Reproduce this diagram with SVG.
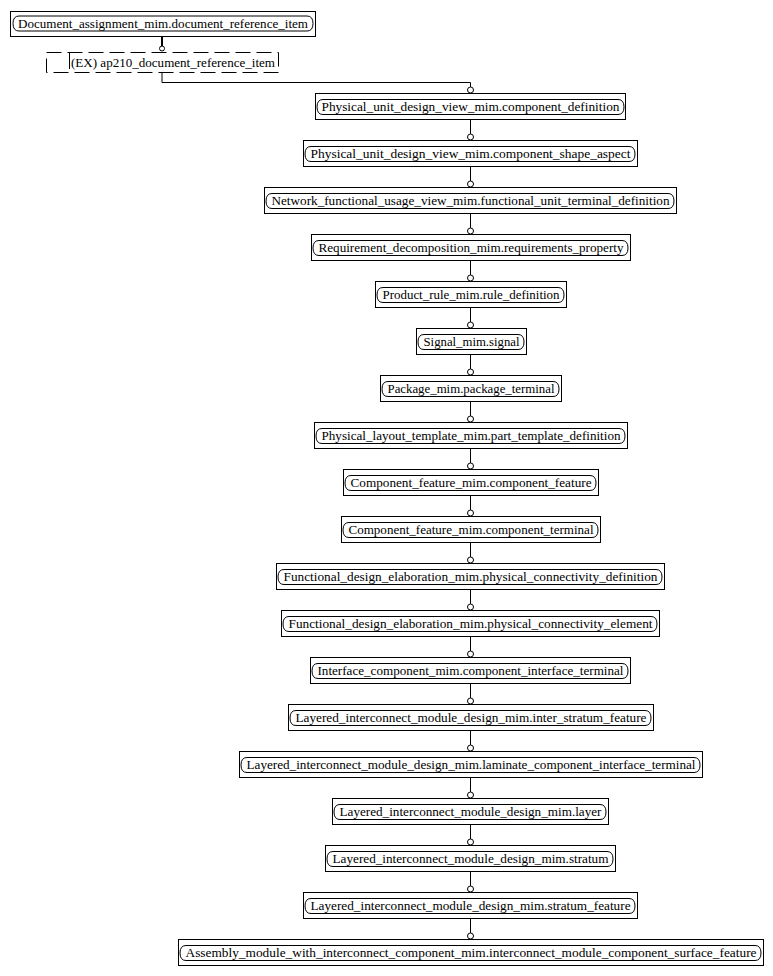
<svg xmlns="http://www.w3.org/2000/svg" width="773" height="976" viewBox="0 0 773 976">
<style>
rect.b{fill:#fff;stroke:#000;stroke-width:1}
path.p{fill:none;stroke:#000;stroke-width:1}
text{font-family:"Liberation Serif","Times New Roman",serif;font-size:12px;fill:#000}
.c line,.c polyline{stroke:#000;stroke-width:1;fill:none}
.c circle{fill:#fff;stroke:#000;stroke-width:1}
</style>
<rect width="773" height="976" fill="#fff"/>
<g class="c" id="connectors">
<line x1="162" y1="36" x2="162" y2="46" style="stroke-width:2"/>
<circle cx="162" cy="48.5" r="2.5"/>
<polyline points="162,72 162,82.5 470.5,82.5 470.5,87"/>
<circle cx="470.5" cy="90" r="3"/>
<line x1="470.5" y1="119" x2="470.5" y2="134"/><circle cx="470.5" cy="137" r="3"/>
<line x1="470.5" y1="166" x2="470.5" y2="181"/><circle cx="470.5" cy="184" r="3"/>
<line x1="470.5" y1="213" x2="470.5" y2="228"/><circle cx="470.5" cy="231" r="3"/>
<line x1="470.5" y1="260" x2="470.5" y2="275"/><circle cx="470.5" cy="278" r="3"/>
<line x1="470.5" y1="307" x2="470.5" y2="322"/><circle cx="470.5" cy="325" r="3"/>
<line x1="470.5" y1="354" x2="470.5" y2="369"/><circle cx="470.5" cy="372" r="3"/>
<line x1="470.5" y1="401" x2="470.5" y2="416"/><circle cx="470.5" cy="419" r="3"/>
<line x1="470.5" y1="448" x2="470.5" y2="463"/><circle cx="470.5" cy="466" r="3"/>
<line x1="470.5" y1="495" x2="470.5" y2="510"/><circle cx="470.5" cy="513" r="3"/>
<line x1="470.5" y1="542" x2="470.5" y2="557"/><circle cx="470.5" cy="560" r="3"/>
<line x1="470.5" y1="589" x2="470.5" y2="604"/><circle cx="470.5" cy="607" r="3"/>
<line x1="470.5" y1="636" x2="470.5" y2="651"/><circle cx="470.5" cy="654" r="3"/>
<line x1="470.5" y1="683" x2="470.5" y2="698"/><circle cx="470.5" cy="701" r="3"/>
<line x1="470.5" y1="730" x2="470.5" y2="745"/><circle cx="470.5" cy="748" r="3"/>
<line x1="470.5" y1="777" x2="470.5" y2="792"/><circle cx="470.5" cy="795" r="3"/>
<line x1="470.5" y1="824" x2="470.5" y2="839"/><circle cx="470.5" cy="842" r="3"/>
<line x1="470.5" y1="871" x2="470.5" y2="886"/><circle cx="470.5" cy="889" r="3"/>
<line x1="470.5" y1="918" x2="470.5" y2="933"/><circle cx="470.5" cy="936" r="3"/>
</g>
<g id="n_doc">
<rect class="b" x="10.5" y="11.5" width="305" height="25"/>
<path class="p" d="M19,16 H307 Q313,16 313,23.5 Q313,31 307,31 H19 Q13,31 13,23.5 Q13,16 19,16 Z"/>
<text x="163" y="28" text-anchor="middle" textLength="290" lengthAdjust="spacingAndGlyphs">Document_assignment_mim.document_reference_item</text>
</g>
<g id="n_ex">
<rect x="46.5" y="52.5" width="232" height="20" fill="#fff" stroke="#000" stroke-dasharray="15 6"/>
<line x1="69.5" y1="52.5" x2="69.5" y2="69" stroke="#000"/>
<text x="71" y="67" textLength="204" lengthAdjust="spacingAndGlyphs">(EX) ap210_document_reference_item</text>
</g>
<g id="nodes">
<g id="n1"><rect class="b" x="315.5" y="93.5" width="310" height="26"/><path class="p" d="M323,99.5 H618 Q624,99.5 624,107 Q624,114.5 618,114.5 H323 Q317,114.5 317,107 Q317,99.5 323,99.5 Z"/><text x="470.5" y="111" text-anchor="middle" textLength="298" lengthAdjust="spacingAndGlyphs">Physical_unit_design_view_mim.component_definition</text></g>
<g id="n2"><rect class="b" x="303.5" y="140.5" width="334" height="26"/><path class="p" d="M311,146.5 H629 Q635,146.5 635,154 Q635,161.5 629,161.5 H311 Q305,161.5 305,154 Q305,146.5 311,146.5 Z"/><text x="470.5" y="158" text-anchor="middle" textLength="320" lengthAdjust="spacingAndGlyphs">Physical_unit_design_view_mim.component_shape_aspect</text></g>
<g id="n3"><rect class="b" x="264.5" y="187.5" width="412" height="26"/><path class="p" d="M272,193.5 H668 Q674,193.5 674,201 Q674,208.5 668,208.5 H272 Q266,208.5 266,201 Q266,193.5 272,193.5 Z"/><text x="470.5" y="205" text-anchor="middle" textLength="398" lengthAdjust="spacingAndGlyphs">Network_functional_usage_view_mim.functional_unit_terminal_definition</text></g>
<g id="n4"><rect class="b" x="311.5" y="234.5" width="319" height="26"/><path class="p" d="M319,240.5 H622 Q628,240.5 628,248 Q628,255.5 622,255.5 H319 Q313,255.5 313,248 Q313,240.5 319,240.5 Z"/><text x="471" y="252" text-anchor="middle" textLength="305" lengthAdjust="spacingAndGlyphs">Requirement_decomposition_mim.requirements_property</text></g>
<g id="n5"><rect class="b" x="375.5" y="281.5" width="191" height="26"/><path class="p" d="M383,287.5 H558 Q564,287.5 564,295 Q564,302.5 558,302.5 H383 Q377,302.5 377,295 Q377,287.5 383,287.5 Z"/><text x="471" y="299" text-anchor="middle" textLength="177" lengthAdjust="spacingAndGlyphs">Product_rule_mim.rule_definition</text></g>
<g id="n6"><rect class="b" x="416.5" y="328.5" width="110" height="26"/><path class="p" d="M424,334.5 H518 Q524,334.5 524,342 Q524,349.5 518,349.5 H424 Q418,349.5 418,342 Q418,334.5 424,334.5 Z"/><text x="471.5" y="346" text-anchor="middle" textLength="96" lengthAdjust="spacingAndGlyphs">Signal_mim.signal</text></g>
<g id="n7"><rect class="b" x="380.5" y="375.5" width="181" height="26"/><path class="p" d="M388,381.5 H553 Q559,381.5 559,389 Q559,396.5 553,396.5 H388 Q382,396.5 382,389 Q382,381.5 388,381.5 Z"/><text x="471" y="393" text-anchor="middle" textLength="167" lengthAdjust="spacingAndGlyphs">Package_mim.package_terminal</text></g>
<g id="n8"><rect class="b" x="314.5" y="422.5" width="313" height="26"/><path class="p" d="M322,428.5 H619 Q625,428.5 625,436 Q625,443.5 619,443.5 H322 Q316,443.5 316,436 Q316,428.5 322,428.5 Z"/><text x="471" y="440" text-anchor="middle" textLength="299" lengthAdjust="spacingAndGlyphs">Physical_layout_template_mim.part_template_definition</text></g>
<g id="n9"><rect class="b" x="343.5" y="469.5" width="255" height="26"/><path class="p" d="M351,475.5 H590 Q596,475.5 596,483 Q596,490.5 590,490.5 H351 Q345,490.5 345,483 Q345,475.5 351,475.5 Z"/><text x="471" y="487" text-anchor="middle" textLength="241" lengthAdjust="spacingAndGlyphs">Component_feature_mim.component_feature</text></g>
<g id="n10"><rect class="b" x="341.5" y="516.5" width="259" height="26"/><path class="p" d="M349,522.5 H592 Q598,522.5 598,530 Q598,537.5 592,537.5 H349 Q343,537.5 343,530 Q343,522.5 349,522.5 Z"/><text x="471" y="534" text-anchor="middle" textLength="245" lengthAdjust="spacingAndGlyphs">Component_feature_mim.component_terminal</text></g>
<g id="n11"><rect class="b" x="276.5" y="563.5" width="388" height="26"/><path class="p" d="M284,569.5 H656 Q662,569.5 662,577 Q662,584.5 656,584.5 H284 Q278,584.5 278,577 Q278,569.5 284,569.5 Z"/><text x="470.5" y="581" text-anchor="middle" textLength="374" lengthAdjust="spacingAndGlyphs">Functional_design_elaboration_mim.physical_connectivity_definition</text></g>
<g id="n12"><rect class="b" x="281.5" y="610.5" width="378" height="26"/><path class="p" d="M289,616.5 H651 Q657,616.5 657,624 Q657,631.5 651,631.5 H289 Q283,631.5 283,624 Q283,616.5 289,616.5 Z"/><text x="470.5" y="628" text-anchor="middle" textLength="364" lengthAdjust="spacingAndGlyphs">Functional_design_elaboration_mim.physical_connectivity_element</text></g>
<g id="n13"><rect class="b" x="310.5" y="657.5" width="320" height="26"/><path class="p" d="M318,663.5 H622 Q628,663.5 628,671 Q628,678.5 622,678.5 H318 Q312,678.5 312,671 Q312,663.5 318,663.5 Z"/><text x="470.5" y="675" text-anchor="middle" textLength="306" lengthAdjust="spacingAndGlyphs">Interface_component_mim.component_interface_terminal</text></g>
<g id="n14"><rect class="b" x="288.5" y="704.5" width="365" height="26"/><path class="p" d="M296,710.5 H645 Q651,710.5 651,718 Q651,725.5 645,725.5 H296 Q290,725.5 290,718 Q290,710.5 296,710.5 Z"/><text x="471" y="722" text-anchor="middle" textLength="351" lengthAdjust="spacingAndGlyphs">Layered_interconnect_module_design_mim.inter_stratum_feature</text></g>
<g id="n15"><rect class="b" x="239.5" y="751.5" width="463" height="26"/><path class="p" d="M247,757.5 H694 Q700,757.5 700,765 Q700,772.5 694,772.5 H247 Q241,772.5 241,765 Q241,757.5 247,757.5 Z"/><text x="471" y="769" text-anchor="middle" textLength="449" lengthAdjust="spacingAndGlyphs">Layered_interconnect_module_design_mim.laminate_component_interface_terminal</text></g>
<g id="n16"><rect class="b" x="332.5" y="798.5" width="276" height="26"/><path class="p" d="M340,804.5 H600 Q606,804.5 606,812 Q606,819.5 600,819.5 H340 Q334,819.5 334,812 Q334,804.5 340,804.5 Z"/><text x="470.5" y="816" text-anchor="middle" textLength="262" lengthAdjust="spacingAndGlyphs">Layered_interconnect_module_design_mim.layer</text></g>
<g id="n17"><rect class="b" x="325.5" y="845.5" width="290" height="26"/><path class="p" d="M333,851.5 H607 Q613,851.5 613,859 Q613,866.5 607,866.5 H333 Q327,866.5 327,859 Q327,851.5 333,851.5 Z"/><text x="470.5" y="863" text-anchor="middle" textLength="276" lengthAdjust="spacingAndGlyphs">Layered_interconnect_module_design_mim.stratum</text></g>
<g id="n18"><rect class="b" x="303.5" y="892.5" width="334" height="26"/><path class="p" d="M311,898.5 H629 Q635,898.5 635,906 Q635,913.5 629,913.5 H311 Q305,913.5 305,906 Q305,898.5 311,898.5 Z"/><text x="470.5" y="910" text-anchor="middle" textLength="320" lengthAdjust="spacingAndGlyphs">Layered_interconnect_module_design_mim.stratum_feature</text></g>
<g id="n19"><rect class="b" x="178.5" y="939.5" width="585" height="26"/><path class="p" d="M186,945.5 H755 Q761,945.5 761,953 Q761,960.5 755,960.5 H186 Q180,960.5 180,953 Q180,945.5 186,945.5 Z"/><text x="471" y="957" text-anchor="middle" textLength="571" lengthAdjust="spacingAndGlyphs">Assembly_module_with_interconnect_component_mim.interconnect_module_component_surface_feature</text></g>
</g>
</svg>
